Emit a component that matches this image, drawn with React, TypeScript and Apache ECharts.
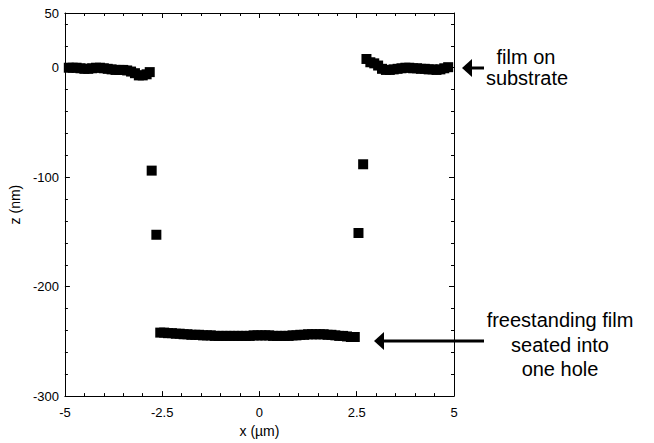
import React, { useEffect, useRef } from "react";
import * as echarts from "echarts";

// Film on substrate, left side (x in µm, z in nm)
const leftX = [-4.9, -4.8, -4.7, -4.6, -4.5, -4.4, -4.3, -4.2, -4.1, -4.0, -3.9, -3.8, -3.7, -3.6, -3.5, -3.4, -3.3, -3.2, -3.1, -3.0, -2.9, -2.82];
const leftZ = [0, 0, 0, -0.5, -1, -1, -0.5, 0, 0, -0.5, -1, -1.5, -2, -2, -2, -2.5, -3.5, -5, -7, -7, -6, -4];

// Film on substrate, right side
const rightX = [2.75, 2.85, 2.95, 3.05, 3.15, 3.25, 3.35, 3.45, 3.55, 3.65, 3.75, 3.85, 3.95, 4.05, 4.15, 4.25, 4.35, 4.45, 4.55, 4.65, 4.75, 4.85];
const rightZ = [8, 5, 4, 2, -1, -2, -2, -1.5, -1, -0.5, 0, 0, -0.5, -0.5, -1, -1, -1.5, -1.5, -2, -1.5, -0.5, 0.5];

// Isolated points on the hole walls
const wallX = [-2.77, -2.65, 2.665, 2.545];
const wallZ = [-94, -152.6, -88.2, -151];

// Freestanding film seated into the hole
const holeX = [
  -2.55, -2.45, -2.35, -2.25, -2.15, -2.05, -1.95, -1.85, -1.75, -1.65, -1.55, -1.45, -1.35,
  -1.25, -1.15, -1.05, -0.95, -0.85, -0.75, -0.65, -0.55, -0.45, -0.35, -0.25, -0.15, -0.05,
  0.05, 0.15, 0.25, 0.35, 0.45, 0.55, 0.65, 0.75, 0.85, 0.95, 1.05, 1.15, 1.25, 1.35, 1.45,
  1.55, 1.65, 1.75, 1.85, 1.95, 2.05, 2.15, 2.25, 2.35, 2.45,
];
const holeZ = [
  -242, -242, -242.5, -242.5, -243, -243, -243.5, -243.5, -244, -244, -244, -244.5, -244.5,
  -244.5, -245, -245, -245, -245, -245, -245, -245, -245, -245, -245, -244.5, -244.5,
  -244.5, -244.5, -244.5, -245, -245, -245, -245, -245, -244.5, -244.5, -244, -244, -243.5,
  -243.5, -243.5, -243.5, -243.5, -244, -244, -244.5, -245, -245, -245.5, -246, -246,
];

const xTicks = { min: -5, max: 5, interval: 2.5 };
const yTicks = { min: -300, max: 50, interval: 100 };

const FONT = "Liberation Sans, Arial, Helvetica, sans-serif";

function zip(xs: number[], ys: number[]) {
  return xs.map((x, i) => [x, ys[i]]);
}

export default function App() {
  const ref = useRef<HTMLDivElement>(null);
  useEffect(() => {
    if (!ref.current) return;
    const chart = echarts.init(ref.current, undefined, { renderer: "svg" });
    const axisLine = { show: true, onZero: false, lineStyle: { color: "#000", width: 1 } };
    const tick = { show: true, inside: true, length: 5, lineStyle: { color: "#000" } };
    const minor = { show: true, splitNumber: 5, length: 3, lineStyle: { color: "#000" } };
    const label = { color: "#000", fontSize: 13, fontFamily: FONT };
    const scatterStyle = { color: "#000", opacity: 1 };
    const series = [leftX, rightX, wallX, holeX].map((xs, i) => ({
      type: "scatter",
      symbol: "rect",
      symbolSize: 10,
      itemStyle: scatterStyle,
      data: zip(xs, [leftZ, rightZ, wallZ, holeZ][i]),
    }));
    const textStyle = (t: string, x: number, y: number) => ({
      type: "text",
      x,
      y,
      style: {
        text: t,
        fill: "#000",
        font: `20px ${FONT}`,
        align: "center",
        verticalAlign: "middle",
      },
    });
    chart.setOption({
      animation: false,
      grid: { left: 63, right: 200, top: 13, bottom: 41 },
      xAxis: [
        {
          type: "value",
          ...xTicks,
          position: "bottom",
          name: "x (µm)",
          nameLocation: "middle",
          nameGap: 25,
          nameTextStyle: { color: "#000", fontSize: 14, fontFamily: FONT },
          axisLine,
          axisTick: tick,
          minorTick: minor,
          splitLine: { show: false },
          axisLabel: { ...label, margin: 10 },
        },
        {
          type: "value",
          ...xTicks,
          position: "top",
          axisLine,
          axisTick: tick,
          minorTick: minor,
          splitLine: { show: false },
          axisLabel: { show: false },
        },
      ],
      yAxis: [
        {
          type: "value",
          ...yTicks,
          position: "left",
          name: "z (nm)",
          nameLocation: "middle",
          nameGap: 37,
          nameTextStyle: { color: "#000", fontSize: 14, fontFamily: FONT },
          axisLine,
          axisTick: tick,
          minorTick: minor,
          splitLine: { show: false },
          axisLabel: { ...label, margin: 6 },
        },
        {
          type: "value",
          ...yTicks,
          position: "right",
          axisLine,
          axisTick: tick,
          minorTick: minor,
          splitLine: { show: false },
          axisLabel: { show: false },
        },
      ],
      series,
      graphic: [
        // arrow to film on substrate
        { type: "rect", shape: { x: 468, y: 66.5, width: 16, height: 3 }, style: { fill: "#000" } },
        { type: "polygon", shape: { points: [[462, 68], [472, 59], [472, 77]] }, style: { fill: "#000" } },
        textStyle("film on", 526, 57),
        textStyle("substrate", 527, 78),
        // arrow to freestanding film
        { type: "rect", shape: { x: 380, y: 339.5, width: 104, height: 3 }, style: { fill: "#000" } },
        { type: "polygon", shape: { points: [[374, 341], [384, 332], [384, 350]] }, style: { fill: "#000" } },
        textStyle("freestanding film", 560, 320),
        textStyle("seated into", 560, 345),
        textStyle("one hole", 560, 369),
      ],
    });
    return () => chart.dispose();
  }, []);
  return (
    <div
      ref={ref}
      style={{ position: "absolute", left: 0, top: 0, width: 654, height: 443 }}
    />
  );
}
